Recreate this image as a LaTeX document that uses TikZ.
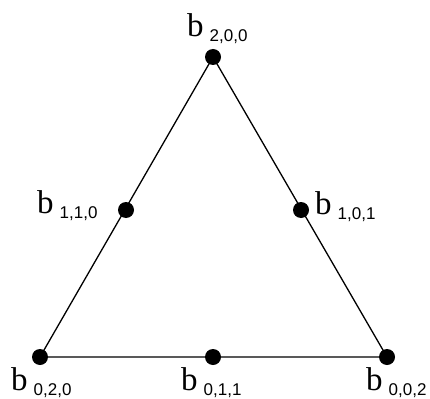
\documentclass[tikz,border=0pt]{standalone}
\usepackage{fontspec}
\setmainfont{Liberation Serif}
\setsansfont{Liberation Sans}

\newcommand{\bidx}[1]{{\fontsize{33}{33}\selectfont b}\hspace{6pt}\raisebox{-5pt}{\sffamily\fontsize{17}{17}\selectfont #1}}

\tikzset{
  vtx/.style={circle,fill=black,inner sep=0pt,minimum size=16pt},
  vlabel/.style={anchor=base west,inner sep=0pt},
}

\begin{document}
\begin{tikzpicture}[x=1pt,y=-1pt]
  \useasboundingbox (0,0) rectangle (430,398);

  % control points
  \node[vtx] (b200) at (213,57) {};
  \node[vtx] (b020) at (40,357) {};
  \node[vtx] (b002) at (387,357) {};
  \node[vtx] (b110) at (126,210) {};
  \node[vtx] (b101) at (301,210) {};
  \node[vtx] (b011) at (213,357) {};

  \draw[line width=1.3pt] (b200.center) -- (b020.center) -- (b002.center) -- cycle;

  % labels
  \node[vlabel] (l200) at (187,37) {\bidx{2,0,0}};
  \node[vlabel] (l110) at (37,213) {\bidx{1,1,0}};
  \node[vlabel] (l101) at (315,214) {\bidx{1,0,1}};
  \node[vlabel] (l020) at (11,390) {\bidx{0,2,0}};
  \node[vlabel] (l011) at (181,390) {\bidx{0,1,1}};
  \node[vlabel] (l002) at (366,390) {\bidx{0,0,2}};
\end{tikzpicture}
\end{document}
